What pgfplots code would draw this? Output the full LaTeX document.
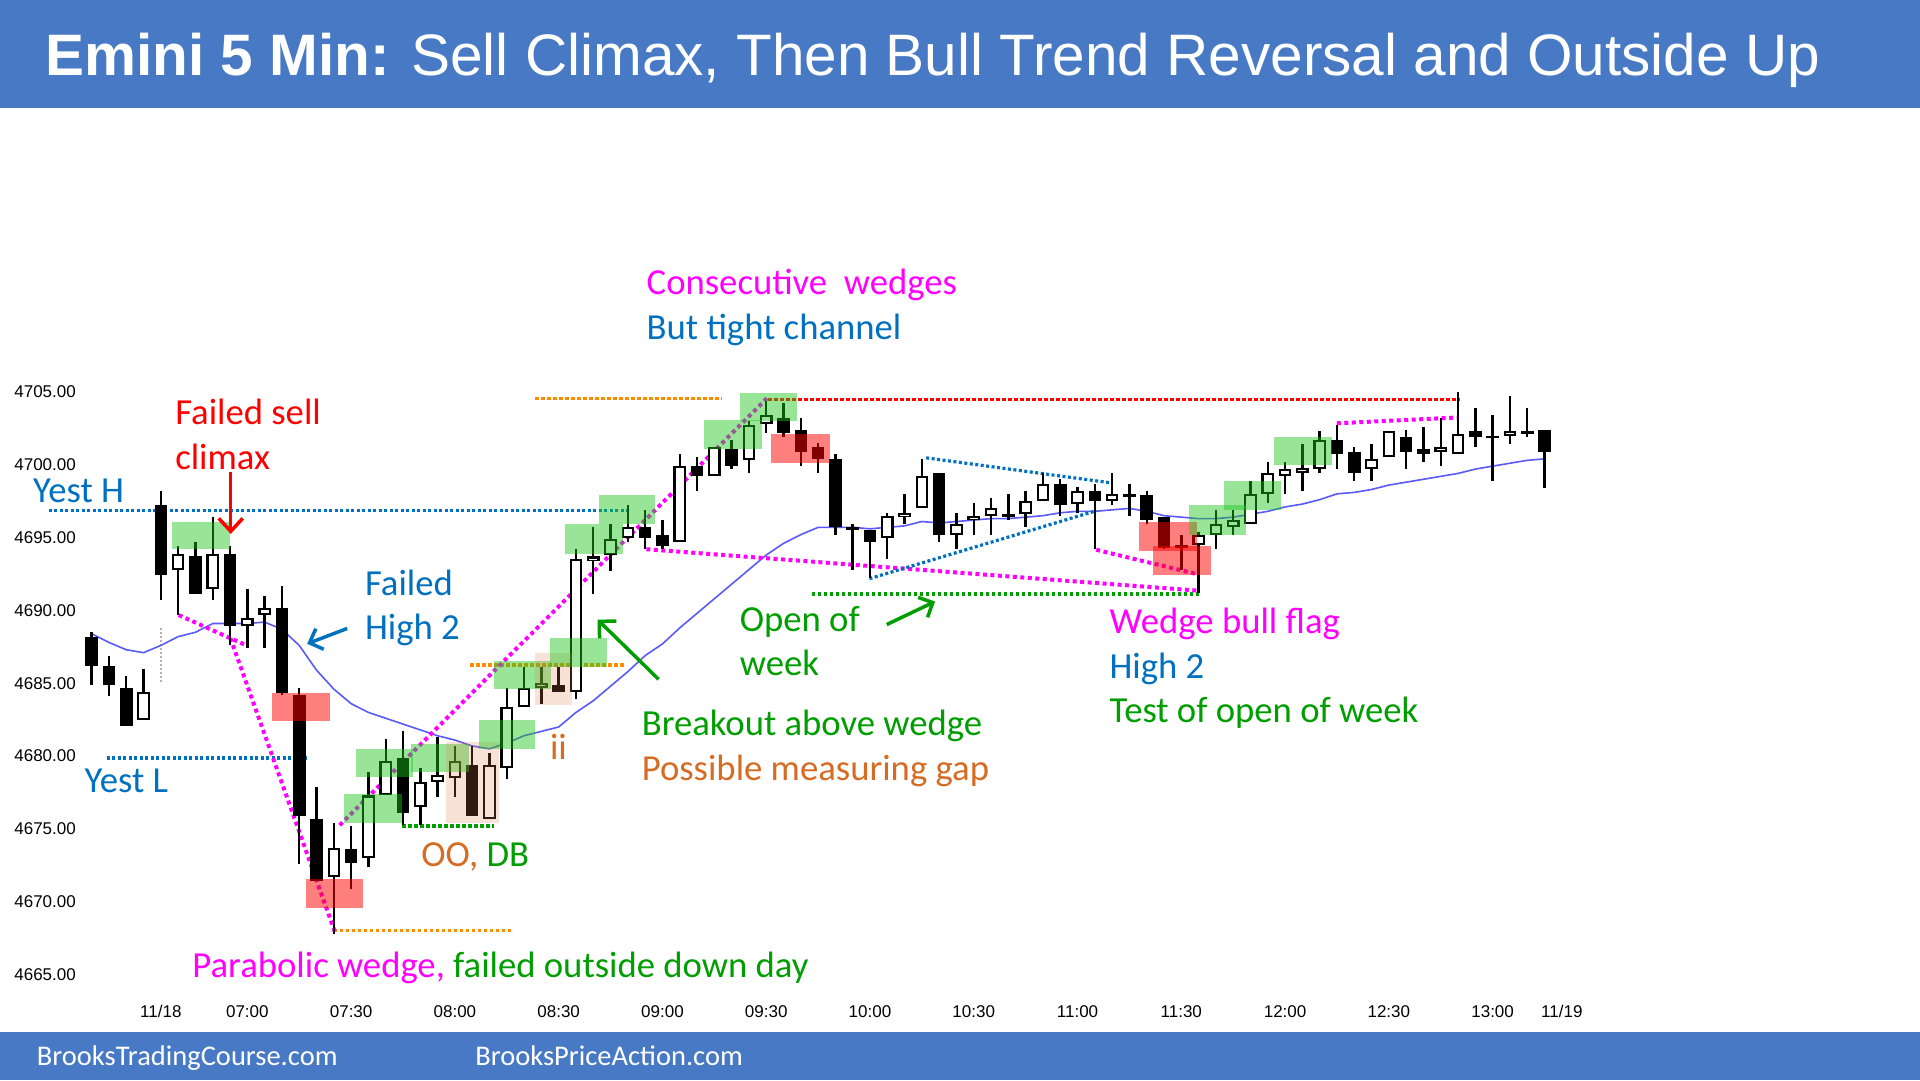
\documentclass[border=0pt]{standalone}
\usepackage{fontspec}
\setmainfont{Liberation Sans}
\newfontfamily\calib{Carlito}
\usepackage{pgfplots}
\pgfplotsset{compat=1.18}
\usepackage{pgfplotstable}
\usetikzlibrary{arrows.meta}

\definecolor{banner}{RGB}{71,121,197}
\definecolor{annblue}{RGB}{0,112,192}
\definecolor{anngreen}{RGB}{0,158,0}
\definecolor{annorange}{RGB}{214,108,36}
\definecolor{dotorange}{RGB}{255,140,0}
\definecolor{magn}{RGB}{255,0,255}
\definecolor{mavg}{RGB}{90,90,250}
\definecolor{boxgreen}{RGB}{28,199,28}
\definecolor{boxtan}{RGB}{225,125,75}

\pgfplotstableread{
i o h l c
-4 4688.2 4688.5 4684.9 4686.2
-3 4686.2 4686.9 4684.1 4684.9
-2 4684.7 4685.5 4682.1 4682.1
-1 4682.5 4686.0 4682.5 4684.4
0 4697.2 4698.2 4690.7 4692.4
1 4692.8 4694.4 4689.7 4693.9
2 4693.7 4694.7 4691.1 4691.1
3 4691.5 4696.4 4690.7 4693.9
4 4693.9 4694.4 4687.6 4688.9
5 4688.9 4691.5 4687.4 4689.5
6 4689.7 4691.0 4687.4 4690.2
7 4690.2 4691.7 4684.2 4684.3
8 4684.2 4684.7 4672.6 4675.9
9 4675.7 4677.9 4671.4 4671.4
10 4671.7 4675.4 4667.8 4673.7
11 4673.6 4675.2 4670.9 4672.7
12 4673.0 4678.9 4672.4 4677.3
13 4677.3 4681.2 4677.3 4679.7
14 4679.9 4681.7 4675.3 4676.1
15 4676.5 4679.2 4675.3 4678.2
16 4678.2 4681.3 4677.2 4678.7
17 4678.5 4680.7 4677.2 4679.7
18 4679.4 4680.7 4675.9 4675.9
19 4675.7 4680.2 4675.7 4679.4
20 4679.2 4684.7 4678.4 4683.4
21 4683.4 4686.1 4683.4 4684.7
22 4684.7 4686.1 4683.6 4685.0
23 4684.9 4686.1 4684.4 4684.4
24 4684.4 4694.2 4683.9 4693.5
25 4693.4 4695.7 4691.1 4693.7
26 4693.8 4695.9 4692.7 4694.9
27 4695.0 4697.2 4694.7 4695.7
28 4695.7 4696.9 4694.2 4695.0
29 4695.2 4696.2 4694.2 4694.4
30 4694.7 4700.7 4694.7 4699.9
31 4699.9 4700.5 4698.2 4699.2
32 4699.2 4701.2 4699.2 4701.2
33 4701.1 4701.7 4699.7 4699.9
34 4700.3 4703.0 4699.4 4702.7
35 4702.8 4704.4 4702.2 4703.4
36 4703.2 4704.2 4701.9 4702.2
37 4702.4 4703.2 4699.9 4700.9
38 4701.2 4701.5 4699.4 4700.4
39 4700.4 4700.7 4695.2 4695.7
40 4695.7 4695.9 4692.8 4695.5
41 4695.5 4695.5 4692.2 4694.7
42 4695.0 4696.7 4693.5 4696.5
43 4696.4 4698.0 4695.9 4696.7
44 4697.0 4700.4 4697.0 4699.2
45 4699.4 4699.4 4694.7 4695.2
46 4695.2 4696.7 4694.2 4695.9
47 4696.2 4697.4 4695.2 4696.5
48 4696.5 4697.7 4695.2 4697.0
49 4696.6 4698.0 4696.2 4696.4
50 4696.6 4698.2 4695.7 4697.5
51 4697.5 4699.4 4697.5 4698.7
52 4698.7 4699.0 4696.5 4697.2
53 4697.3 4698.5 4696.7 4698.2
54 4698.2 4698.7 4694.2 4697.5
55 4697.5 4699.4 4697.2 4698.0
56 4698.0 4698.7 4696.5 4697.8
57 4697.9 4698.2 4695.9 4696.2
58 4696.4 4696.4 4694.2 4694.3
59 4694.5 4695.2 4692.8 4694.3
60 4694.5 4695.4 4691.2 4695.2
61 4695.2 4696.9 4694.2 4695.9
62 4695.7 4696.9 4695.2 4696.2
63 4695.9 4698.9 4695.9 4698.0
64 4698.0 4700.2 4697.4 4699.4
65 4699.2 4700.2 4698.0 4699.7
66 4699.4 4701.4 4698.2 4699.8
67 4699.7 4702.3 4699.4 4701.7
68 4701.7 4702.7 4699.7 4700.7
69 4700.9 4701.2 4698.9 4699.4
70 4699.7 4701.4 4698.9 4700.4
71 4700.5 4702.3 4700.5 4702.3
72 4701.9 4702.4 4699.7 4700.9
73 4701.1 4702.6 4700.2 4700.7
74 4700.9 4703.2 4699.9 4701.2
75 4700.7 4705.0 4700.7 4702.1
76 4702.3 4703.9 4701.2 4701.9
77 4702.0 4703.4 4698.9 4701.8
78 4702.0 4704.7 4701.4 4702.3
79 4702.3 4703.9 4701.9 4702.1
80 4702.4 4702.4 4698.4 4700.9
}\candles

\pgfplotstableread{
i ma
-4 4688.4
-3 4687.8
-2 4687.3
-1 4687.1
0 4687.6
1 4688.2
2 4688.5
3 4689.1
4 4689.1
5 4689.1
6 4689.2
7 4688.7
8 4687.6
9 4685.9
10 4684.6
11 4683.6
12 4683.0
13 4682.6
14 4682.2
15 4681.8
16 4681.4
17 4681.1
18 4680.7
19 4680.5
20 4680.9
21 4681.4
22 4681.7
23 4682.0
24 4683.0
25 4683.8
26 4684.8
27 4685.8
28 4686.9
29 4687.7
30 4688.8
31 4689.8
32 4690.8
33 4691.8
34 4692.8
35 4693.8
36 4694.6
37 4695.2
38 4695.7
39 4695.7
40 4695.7
41 4695.6
42 4695.7
43 4695.8
44 4696.1
45 4696.0
46 4696.1
47 4696.2
48 4696.3
49 4696.3
50 4696.4
51 4696.5
52 4696.7
53 4696.8
54 4696.8
55 4696.9
56 4697.0
57 4696.8
58 4696.5
59 4696.4
60 4696.3
61 4696.3
62 4696.4
63 4696.6
64 4696.8
65 4697.1
66 4697.3
67 4697.6
68 4698.0
69 4698.1
70 4698.3
71 4698.6
72 4698.8
73 4699.0
74 4699.2
75 4699.4
76 4699.7
77 4699.9
78 4700.1
79 4700.3
80 4700.4
}\mavgtab

\tikzset{
  ann/.style={anchor=base west, inner sep=0pt, yshift=-3.7pt, font=\calib\fontsize{36.7}{45}\selectfont},
}

\begin{document}
\begin{tikzpicture}[x=1pt,y=1pt]
\fill[white] (0,0) rectangle (1920,1080);
\fill[banner] (0,972) rectangle (1920,1080);
\fill[banner] (0,0) rectangle (1920,48);
\begin{axis}[
  at={(0,0)}, anchor=south west, scale only axis,
  width=1920pt, height=1080pt,
  xmin=-9.301, xmax=101.71, ymin=4657.775, ymax=4731.89,
  clip=false,
  axis line style={draw=none},
  major tick length=0pt, tick style={draw=none},
  ytick={4665,4670,4675,4680,4685,4690,4695,4700,4705},
  yticklabels={4665.00,4670.00,4675.00,4680.00,4685.00,4690.00,4695.00,4700.00,4705.00},
  xtick={0,5,11,17,23,29,35,41,47,53,59,65,71,77,81},
  xticklabels={11/18,07:00,07:30,08:00,08:30,09:00,09:30,10:00,10:30,11:00,11:30,12:00,12:30,13:00,11/19},
  tick label style={font=\fontsize{17}{17}\selectfont},
  yticklabel style={anchor=east, inner sep=0pt, xshift=76pt},
  xticklabel style={anchor=center, inner sep=0pt, yshift=68.5pt},
]
% session separator
\addplot[black!30, line width=2.5pt, dash pattern=on 2pt off 2pt] coordinates {(0,4685.1) (0,4688.8)};
% moving average
\addplot[mavg, line width=1.6pt] table[x=i, y=ma] {\mavgtab};

% dotted lines
\addplot[annblue, line width=3.2pt, dash pattern=on 3pt off 2.5pt] coordinates {(-6.48,4696.85) (27.0,4696.85)};
\addplot[annblue, line width=3.2pt, dash pattern=on 3pt off 2.5pt] coordinates {(-3.14,4679.87) (8.45,4679.87)};
\addplot[red, line width=3.4pt, dash pattern=on 3.4pt off 2.6pt] coordinates {(35.13,4704.47) (75.1,4704.47)};
\addplot[dotorange, line width=3.4pt, dash pattern=on 3.4pt off 2.6pt] coordinates {(21.66,4704.55) (32.45,4704.55)};
\addplot[dotorange, line width=3.4pt, dash pattern=on 3.4pt off 2.6pt] coordinates {(17.9,4686.26) (26.8,4686.26)};
\addplot[dotorange, line width=3.4pt, dash pattern=on 3.4pt off 2.6pt] coordinates {(10.0,4668.05) (20.4,4668.05)};
\addplot[anngreen, line width=3.4pt, dash pattern=on 3.4pt off 2.6pt] coordinates {(13.95,4675.2) (19.28,4675.2)};
\addplot[anngreen, line width=3.4pt, dash pattern=on 3.4pt off 2.6pt] coordinates {(37.64,4691.13) (60.05,4691.13)};
\addplot[magn, line width=4pt, dash pattern=on 4pt off 3.5pt] coordinates {(1.03,4689.68) (4.98,4687.58)};
\addplot[magn, line width=4pt, dash pattern=on 4pt off 3.5pt] coordinates {(4.02,4688.1) (10.05,4667.97)};
\addplot[magn, line width=4pt, dash pattern=on 4pt off 3.5pt] coordinates {(10.34,4675.26) (35.04,4704.55)};
\addplot[magn, line width=4pt, dash pattern=on 4pt off 3.5pt] coordinates {(28.07,4694.2) (60.05,4691.35)};
\addplot[magn, line width=4pt, dash pattern=on 4pt off 3.5pt] coordinates {(54.08,4694.16) (60.05,4692.45)};
\addplot[magn, line width=4pt, dash pattern=on 4pt off 3.5pt] coordinates {(67.99,4702.84) (74.96,4703.24)};
\addplot[annblue, line width=3.2pt, dash pattern=on 3pt off 2.5pt] coordinates {(44.25,4700.47) (54.89,4698.76)};
\addplot[annblue, line width=3.2pt, dash pattern=on 3pt off 2.5pt] coordinates {(40.97,4692.18) (54.08,4696.84)};

% candles: wicks
\addplot[draw=none, error bars/.cd, y dir=minus, y explicit, error mark=none,
  error bar style={draw=black, solid, line width=2.4pt}]
  table[x=i, y=h, y error minus expr={\thisrow{h}-\thisrow{l}}] {\candles};
% candles: bodies
\addplot[draw=none, error bars/.cd, y dir=minus, y explicit, error mark=none,
  error bar style={draw=black, solid, line width=12.6pt, line cap=butt}]
  table[x=i, y expr={max(\thisrow{o},\thisrow{c})}, y error minus expr={max(abs(\thisrow{c}-\thisrow{o}),0.2)}] {\candles};
\addplot[draw=none, restrict expr to domain={\thisrow{c}-\thisrow{o}}{0.01:1000},
  error bars/.cd, y dir=minus, y explicit, error mark=none,
  error bar style={draw=white, solid, line width=8.2pt, line cap=butt}]
  table[x=i, y expr={\thisrow{c}-0.14}, y error minus expr={max(\thisrow{c}-\thisrow{o}-0.28,0.08)}] {\candles};

% highlight boxes
\addplot[fill=boxgreen, fill opacity=0.45, draw=none] coordinates {(0.65,4694.2) (3.98,4694.2) (3.98,4696.1) (0.65,4696.1)};
\addplot[fill=red, fill opacity=0.5, draw=none] coordinates {(6.43,4682.4) (9.80,4682.4) (9.80,4684.3) (6.43,4684.3)};
\addplot[fill=red, fill opacity=0.5, draw=none] coordinates {(8.42,4669.6) (11.69,4669.6) (11.69,4671.6) (8.42,4671.6)};
\addplot[fill=boxgreen, fill opacity=0.45, draw=none] coordinates {(10.61,4675.4) (13.95,4675.4) (13.95,4677.4) (10.61,4677.4)};
\addplot[fill=boxgreen, fill opacity=0.45, draw=none] coordinates {(11.31,4678.6) (14.58,4678.6) (14.58,4680.5) (11.31,4680.5)};
\addplot[fill=boxgreen, fill opacity=0.45, draw=none] coordinates {(14.47,4678.9) (17.80,4678.9) (17.80,4680.8) (14.47,4680.8)};
\addplot[fill=boxtan, fill opacity=0.22, draw=none] coordinates {(16.51,4675.4) (19.53,4675.4) (19.53,4681.0) (16.51,4681.0)};
\addplot[fill=boxgreen, fill opacity=0.45, draw=none] coordinates {(18.38,4680.5) (21.65,4680.5) (21.65,4682.5) (18.38,4682.5)};
\addplot[fill=boxgreen, fill opacity=0.45, draw=none] coordinates {(19.28,4684.6) (22.56,4684.6) (22.56,4686.5) (19.28,4686.5)};
\addplot[fill=boxtan, fill opacity=0.22, draw=none] coordinates {(21.65,4683.5) (23.77,4683.5) (23.77,4687.1) (21.65,4687.1)};
\addplot[fill=boxgreen, fill opacity=0.45, draw=none] coordinates {(22.48,4686.1) (25.80,4686.1) (25.80,4688.1) (22.48,4688.1)};
\addplot[fill=boxgreen, fill opacity=0.45, draw=none] coordinates {(23.39,4693.9) (26.72,4693.9) (26.72,4695.9) (23.39,4695.9)};
\addplot[fill=boxgreen, fill opacity=0.45, draw=none] coordinates {(25.31,4695.9) (28.59,4695.9) (28.59,4697.9) (25.31,4697.9)};
\addplot[fill=boxgreen, fill opacity=0.45, draw=none] coordinates {(31.42,4701.1) (34.76,4701.1) (34.76,4703.1) (31.42,4703.1)};
\addplot[fill=boxgreen, fill opacity=0.45, draw=none] coordinates {(33.50,4703.0) (36.78,4703.0) (36.78,4704.9) (33.50,4704.9)};
\addplot[fill=red, fill opacity=0.5, draw=none] coordinates {(35.30,4700.1) (38.66,4700.1) (38.66,4702.1) (35.30,4702.1)};
\addplot[fill=red, fill opacity=0.5, draw=none] coordinates {(56.58,4694.1) (59.90,4694.1) (59.90,4696.1) (56.58,4696.1)};
\addplot[fill=red, fill opacity=0.5, draw=none] coordinates {(57.39,4692.4) (60.71,4692.4) (60.71,4694.4) (57.39,4694.4)};
\addplot[fill=boxgreen, fill opacity=0.45, draw=none] coordinates {(59.47,4695.2) (62.75,4695.2) (62.75,4697.2) (59.47,4697.2)};
\addplot[fill=boxgreen, fill opacity=0.45, draw=none] coordinates {(61.44,4696.9) (64.76,4696.9) (64.76,4698.9) (61.44,4698.9)};
\addplot[fill=boxgreen, fill opacity=0.45, draw=none] coordinates {(64.37,4700.0) (67.70,4700.0) (67.70,4701.9) (64.37,4701.9)};

% arrows
\addplot[red, line width=3.5pt, -{Straight Barb[length=13pt,width=24pt]}] coordinates {(4.04,4699.5) (4.04,4695.25)};
\addplot[annblue, line width=3.5pt, -{Straight Barb[length=11pt,width=22pt]}] coordinates {(10.77,4688.76) (8.46,4687.71)};
\addplot[anngreen, line width=3.5pt, -{Straight Barb[length=12pt,width=24pt]}] coordinates {(28.78,4685.27) (25.25,4689.37)};
\addplot[anngreen, line width=3.5pt, -{Straight Barb[length=11pt,width=22pt]}] coordinates {(41.97,4689.03) (44.76,4690.61)};
\end{axis}

% titles and banners text
\node[anchor=base west, inner sep=0pt, text=white, font=\fontsize{58.5}{60}\selectfont] at (45,1004) {\textbf{Emini 5 Min:} Sell Climax, Then Bull Trend Reversal and Outside Up};
\node[anchor=base west, inner sep=0pt, text=white, font=\calib\fontsize{28.5}{30}\selectfont] at (36.7,15) {BrooksTradingCourse.com};
\node[anchor=base west, inner sep=0pt, text=white, font=\calib\fontsize{28.5}{30}\selectfont] at (475.1,15) {BrooksPriceAction.com};

% annotations
\node[ann, text=magn] at (646.5,789.4) {Consecutive\ \ wedges};
\node[ann, text=annblue] at (646.5,744) {But tight channel};
\node[ann, text=red] at (175.1,659.6) {Failed sell};
\node[ann, text=red] at (175.1,614.3) {climax};
\node[ann, text=annblue] at (33,581.2) {Yest H};
\node[ann, text=annblue] at (84.5,291) {Yest L};
\node[ann, text=annblue] at (364.9,488.1) {Failed};
\node[ann, text=annblue] at (364.9,444) {High 2};
\node[ann, text=anngreen] at (739.6,452.6) {Open of};
\node[ann, text=anngreen] at (739.6,408.5) {week};
\node[ann, text=anngreen] at (641.6,348.5) {Breakout above wedge};
\node[ann, text=annorange] at (641.6,303.2) {Possible\ measuring gap};
\node[ann, text=magn] at (1109.4,450.2) {Wedge bull flag};
\node[ann, text=annblue] at (1109.4,404.9) {High 2};
\node[ann, text=anngreen] at (1109.4,360.8) {Test of open of week};
\node[ann, text=annorange] at (549.8,324) {ii};
\node[ann] at (421.2,217.5) {\textcolor{annorange}{OO,} \textcolor{anngreen}{DB}};
\node[ann] at (192.2,106.1) {\textcolor{magn}{Parabolic wedge,} \textcolor{anngreen}{failed outside down day}};

\pgfresetboundingbox
\useasboundingbox (0,0) rectangle (1920,1080);
\end{tikzpicture}
\end{document}
